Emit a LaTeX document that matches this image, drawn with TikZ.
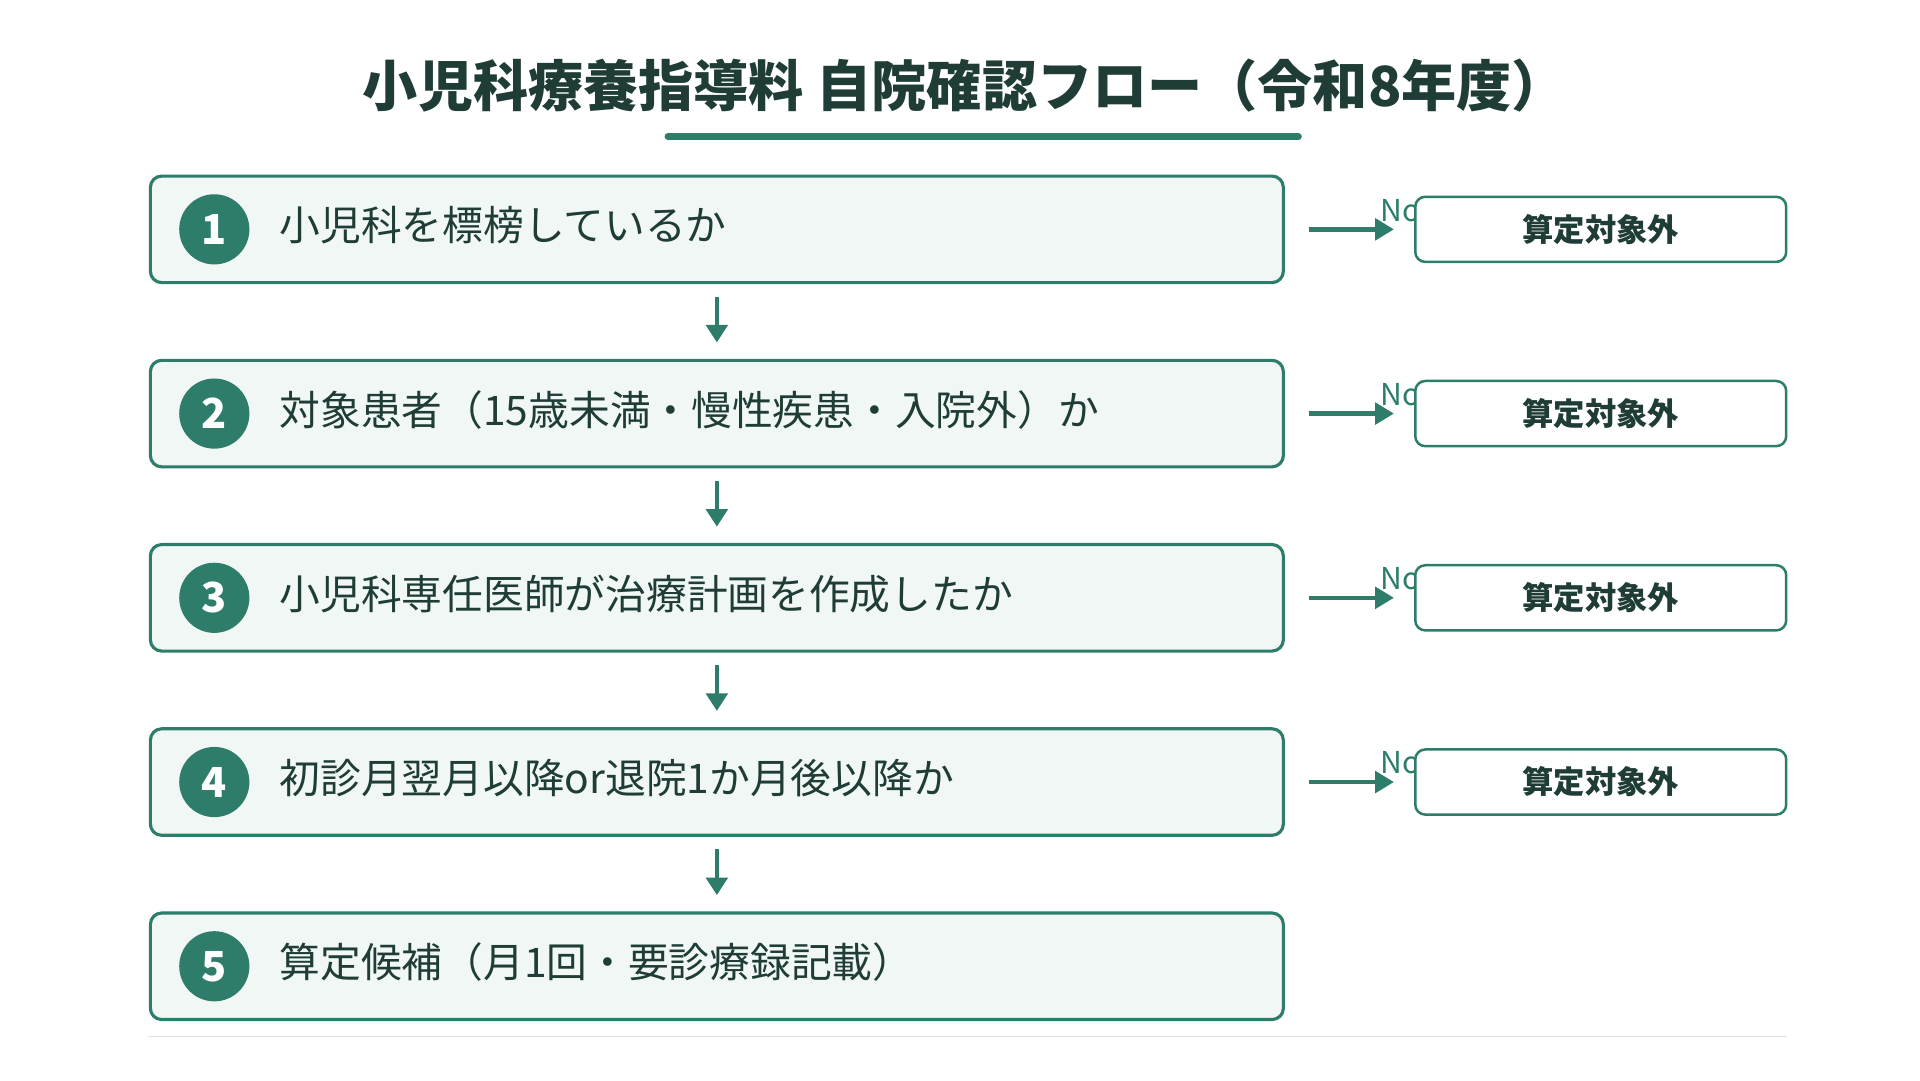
\documentclass[tikz,border=0pt]{standalone}
\usepackage{fontspec}
\setmainfont{Noto Sans CJK JP}
\usetikzlibrary{arrows.meta}
\definecolor{gr}{HTML}{2E7D6B}
\definecolor{dk}{HTML}{1F3D36}
\definecolor{lf}{HTML}{F0F7F4}
\tikzset{
 stepbox/.style={draw=gr,line width=2.5pt,fill=lf,rounded corners=9pt,minimum width=904pt,minimum height=85pt,inner sep=0pt},
 num/.style={circle,fill=gr,minimum size=56pt,inner sep=0pt,text=white,font=\bfseries\fontsize{33}{33}\selectfont},
 txt/.style={anchor=west,text=dk,font=\fontsize{32.5}{36}\selectfont,inner sep=0pt},
 side/.style={draw=gr,line width=2pt,fill=white,rounded corners=8pt,minimum width=296pt,minimum height=52pt,inner sep=0pt,text=dk,font=\bfseries\fontsize{25}{27}\selectfont},
 arr/.style={draw=gr,line width=3.5pt,-{Triangle[length=15pt,width=17pt]}},
 nolab/.style={text=gr,font=\fontsize{24}{24}\selectfont,inner sep=0pt}
}
\begin{document}
\begin{tikzpicture}[x=1pt,y=-1pt]
\useasboundingbox (0,0) rectangle (1532,862);
\node[text=dk,font=\bfseries\fontsize{44}{48}\selectfont] (title) at (770,68) {小児科療養指導料 自院確認フロー（令和8年度）};
\coordinate (u1) at (533,109); \coordinate (u2) at (1036,109);
\draw[gr,line width=5.5pt,line cap=round] (u1) -- (u2);
\foreach \i/\t/\y in {1/小児科を標榜しているか/183,2/対象患者（15歳未満・慢性疾患・入院外）か/330,3/小児科専任医師が治療計画を作成したか/477,4/初診月翌月以降or退院1か月後以降か/624,5/算定候補（月1回・要診療録記載）/771}{
 \node[stepbox] (b\i) at (572,\y) {};
 \node[num] (n\i) at (171,\y) {\i};
 \node[txt] (t\i) at (223,\y-3) {\t};
}
\foreach \i in {1,...,4}{
 \coordinate (s\i) at ([xshift=19pt]b\i.east);
 \node[nolab,anchor=south west] (no\i) at ([xshift=76pt,yshift=6pt]b\i.east) {No};
 \node[side] (x\i) at ([xshift=252pt]b\i.east) {算定対象外};
 \draw[arr] (s\i) -- ([xshift=-16pt]x\i.west);
}
\foreach \i/\j in {1/2,2/3,3/4,4/5}{
 \draw[gr,line width=3.5pt,-{Triangle[length=14pt,width=17pt]},shorten <=10pt,shorten >=13pt] (b\i.south) -- (b\j.north);
}
\coordinate (g1) at (118,827); \coordinate (g2) at (1426,827);
\draw[black!12,line width=1pt] (g1) -- (g2);
\end{tikzpicture}
\end{document}
